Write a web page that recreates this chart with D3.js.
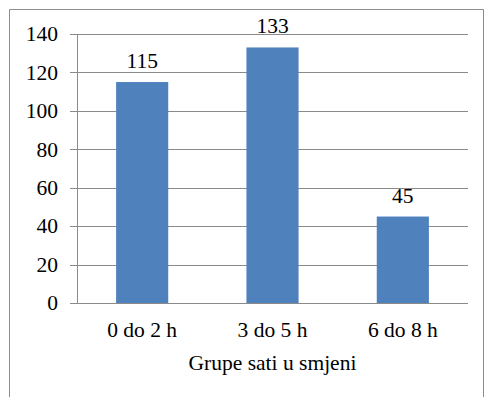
<!DOCTYPE html>
<html>
<head>
<meta charset="utf-8">
<script src="https://cdn.jsdelivr.net/npm/d3@7"></script>
<style>
  html, body { margin: 0; padding: 0; background: #fff; }
  svg { display: block; }
</style>
</head>
<body>
<svg id="chart" width="485" height="397"></svg>
<script>
const categories = ["0 do 2 h", "3 do 5 h", "6 do 8 h"];
const values = [115, 133, 45];
const yTicks = [0, 20, 40, 60, 80, 100, 120, 140];
const axisTitle = "Grupe sati u smjeni";

const FONT = "'Liberation Serif', 'Times New Roman', 'DejaVu Serif', serif";
const FS = 21.5;

const svg = d3.select("#chart")
  .attr("font-family", FONT)
  .style("font-family", FONT);
const W = 485, H = 397;
const m = { left: 77, right: 17, top: 34, bottom: 94 };
const plotW = W - m.left - m.right;
const plotH = H - m.top - m.bottom;

// outer frame (open at the bottom)
svg.append("path")
  .attr("d", `M9.5,${H} V9.5 H483.5 V${H}`)
  .attr("fill", "none")
  .attr("stroke", "#8c8c8c")
  .attr("stroke-width", 1);

const g = svg.append("g").attr("transform", `translate(${m.left},${m.top})`);

const x = d3.scaleBand().domain(categories).range([0, plotW]).padding(0);
const y = d3.scaleLinear().domain([0, 140]).range([plotH, 0]);

// horizontal gridlines
g.append("g")
  .selectAll("line")
  .data(yTicks)
  .join("line")
  .attr("x1", -7)
  .attr("x2", plotW)
  .attr("y1", d => Math.round(y(d)) + 0.5)
  .attr("y2", d => Math.round(y(d)) + 0.5)
  .attr("stroke", "#8a8a8a")
  .attr("stroke-width", 1);

// y axis line
g.append("line")
  .attr("x1", 0.5).attr("x2", 0.5)
  .attr("y1", y(140)).attr("y2", y(0))
  .attr("stroke", "#8a8a8a");

// y tick labels
g.append("g")
  .selectAll("text")
  .data(yTicks)
  .join("text")
  .attr("x", -19)
  .attr("y", d => y(d))
  .attr("dy", "0.34em")
  .attr("text-anchor", "end")
  .attr("font-family", FONT)
  .attr("font-size", FS)
  .text(d => d);

// bars
const barW = x.bandwidth() * 0.4;
g.append("g")
  .selectAll("rect")
  .data(values)
  .join("rect")
  .attr("x", (d, i) => x(categories[i]) + (x.bandwidth() - barW) / 2)
  .attr("y", d => y(d))
  .attr("width", barW)
  .attr("height", d => plotH - y(d))
  .attr("fill", "#4f81bd");

// value labels
g.append("g")
  .selectAll("text")
  .data(values)
  .join("text")
  .attr("x", (d, i) => x(categories[i]) + x.bandwidth() / 2)
  .attr("y", d => y(d) - 14)
  .attr("text-anchor", "middle")
  .attr("font-family", FONT)
  .attr("font-size", FS)
  .text(d => d);

// category labels
g.append("g")
  .selectAll("text")
  .data(categories)
  .join("text")
  .attr("x", d => x(d) + x.bandwidth() / 2)
  .attr("y", plotH + 34)
  .attr("text-anchor", "middle")
  .attr("font-family", FONT)
  .attr("font-size", FS)
  .text(d => d);

// axis title
g.append("text")
  .attr("x", plotW / 2)
  .attr("y", plotH + 67)
  .attr("text-anchor", "middle")
  .attr("font-family", FONT)
  .attr("font-size", FS)
  .text(axisTitle);
</script>
</body>
</html>
